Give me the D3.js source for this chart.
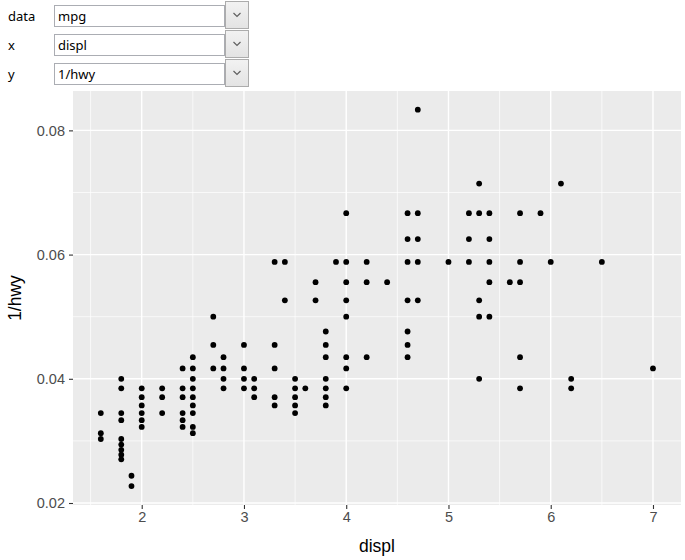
<!DOCTYPE html>
<html>
<head>
<meta charset="utf-8">
<script src="https://cdn.jsdelivr.net/npm/d3@7"></script>
<style>
  html, body { margin: 0; padding: 0; background: #fff; }
  svg { display: block; }
</style>
</head>
<body>
<svg id="chart" width="685" height="560"></svg>
<script>
// ---- data: mpg (unique displ/hwy pairs), plotted as x = displ, y = 1/hwy ----
const displ = [
  1.6,1.6,1.6,
  1.8,1.8,1.8,1.8,1.8,1.8,1.8,1.8,1.8,
  1.9,1.9,
  2.0,2.0,2.0,2.0,2.0,2.0,
  2.2,2.2,2.2,
  2.4,2.4,2.4,2.4,2.4,2.4,
  2.5,2.5,2.5,2.5,2.5,2.5,2.5,2.5,2.5,
  2.7,2.7,2.7,
  2.8,2.8,2.8,2.8,
  3.0,3.0,3.0,3.0,
  3.1,3.1,3.1,
  3.3,3.3,3.3,3.3,3.3,
  3.4,3.4,
  3.5,3.5,3.5,3.5,3.5,
  3.6,
  3.7,3.7,
  3.8,3.8,3.8,3.8,3.8,3.8,3.8,
  3.9,
  4.0,4.0,4.0,4.0,4.0,4.0,4.0,4.0,
  4.2,4.2,4.2,
  4.4,
  4.6,4.6,4.6,4.6,4.6,4.6,4.6,
  4.7,4.7,4.7,4.7,4.7,
  5.0,
  5.2,5.2,5.2,
  5.3,5.3,5.3,5.3,5.3,
  5.4,5.4,5.4,5.4,5.4,
  5.6,
  5.7,5.7,5.7,5.7,5.7,
  5.9,
  6.0,
  6.1,
  6.2,6.2,
  6.5,
  7.0
];
const hwy = [
  29,32,33,
  25,26,29,30,33,34,35,36,37,
  41,44,
  26,27,28,29,30,31,
  26,27,29,
  24,26,27,29,30,31,
  23,24,25,26,27,28,29,31,32,
  20,22,24,
  23,24,25,26,
  22,24,25,26,
  25,26,27,
  17,22,24,27,28,
  17,19,
  25,26,27,28,29,
  26,
  18,19,
  21,22,23,25,26,27,28,
  17,
  15,17,18,19,20,23,24,26,
  17,18,23,
  18,
  15,16,17,19,21,22,23,
  12,15,16,17,19,
  17,
  15,16,17,
  14,15,19,20,25,
  15,16,17,18,20,
  18,
  15,17,18,23,26,
  15,
  17,
  14,
  25,26,
  17,
  24
];
const xTicks = [2, 3, 4, 5, 6, 7];
const xMinor = [1.5, 2.5, 3.5, 4.5, 5.5, 6.5];
const yTicks = [0.02, 0.04, 0.06, 0.08];
const yMinor = [0.03, 0.05, 0.07];
const selectors = [
  { label: "data", value: "mpg" },
  { label: "x", value: "displ" },
  { label: "y", value: "1/hwy" }
];

// ---- layout ----
const svg = d3.select("#chart");
const P = { left: 73, right: 681, top: 91, bottom: 505 };

const x = d3.scaleLinear().domain([1.328, 7.274]).range([P.left, P.right]);
const y = d3.scaleLinear().domain([0.01968, 0.08634]).range([P.bottom, P.top]);

// ---- selector controls ----
const uiFont = "'Noto Sans', 'Open Sans', sans-serif";
const rows = svg.append("g").selectAll("g").data(selectors).join("g")
  .attr("transform", (d, i) => `translate(0, ${i * 29})`);
rows.append("text").attr("x", 8).attr("y", 21)
  .attr("font-family", uiFont).attr("font-size", 13).attr("fill", "#000")
  .text(d => d.label);
rows.append("rect").attr("x", 54.5).attr("y", 5.5).attr("width", 170).attr("height", 21)
  .attr("fill", "#fff").attr("stroke", "#abadb3").attr("stroke-width", 1);
rows.append("text").attr("x", 58).attr("y", 21)
  .attr("font-family", uiFont).attr("font-size", 13).attr("fill", "#000")
  .text(d => d.value);
const defs = svg.append("defs");
const grad = defs.append("linearGradient").attr("id", "btn").attr("x1", 0).attr("y1", 0).attr("x2", 0).attr("y2", 1);
grad.append("stop").attr("offset", "0%").attr("stop-color", "#f2f2f2");
grad.append("stop").attr("offset", "100%").attr("stop-color", "#e3e3e3");
rows.append("rect").attr("x", 225.5).attr("y", 1.5).attr("width", 23).attr("height", 27)
  .attr("fill", "url(#btn)").attr("stroke", "#acacac").attr("stroke-width", 1);
rows.append("path").attr("d", "M233.5,13 L237,16.5 L240.5,13")
  .attr("fill", "none").attr("stroke", "#606060").attr("stroke-width", 1.2);

// ---- panel ----
svg.append("rect").attr("x", P.left).attr("y", P.top)
  .attr("width", P.right - P.left).attr("height", P.bottom - P.top)
  .attr("fill", "#EBEBEB");

const grid = svg.append("g");
grid.selectAll(".xmin").data(xMinor).join("line")
  .attr("x1", d => x(d)).attr("x2", d => x(d)).attr("y1", P.top).attr("y2", P.bottom)
  .attr("stroke", "#fff").attr("stroke-width", 0.7);
grid.selectAll(".ymin").data(yMinor).join("line")
  .attr("y1", d => y(d)).attr("y2", d => y(d)).attr("x1", P.left).attr("x2", P.right)
  .attr("stroke", "#fff").attr("stroke-width", 0.7);
grid.selectAll(".xmaj").data(xTicks).join("line")
  .attr("x1", d => x(d)).attr("x2", d => x(d)).attr("y1", P.top).attr("y2", P.bottom)
  .attr("stroke", "#fff").attr("stroke-width", 1.4);
grid.selectAll(".ymaj").data(yTicks).join("line")
  .attr("y1", d => y(d)).attr("y2", d => y(d)).attr("x1", P.left).attr("x2", P.right)
  .attr("stroke", "#fff").attr("stroke-width", 1.4);

// ---- points ----
const data = displ.map((d, i) => ({ displ: d, hwy: hwy[i] }));
svg.append("g").selectAll("circle").data(data).join("circle")
  .attr("cx", d => x(d.displ))
  .attr("cy", d => y(1 / d.hwy))
  .attr("r", 2.9)
  .attr("fill", "#000");

// ---- axes ----
const axFont = "'Liberation Sans', Arial, sans-serif";
const xAxis = svg.append("g").attr("transform", `translate(0, ${P.bottom})`)
  .call(d3.axisBottom(x).tickValues(xTicks).tickSize(4).tickPadding(3).tickFormat(d3.format("d")));
const yAxis = svg.append("g").attr("transform", `translate(${P.left}, 0)`)
  .call(d3.axisLeft(y).tickValues(yTicks).tickSize(4).tickPadding(4).tickFormat(d3.format(".2f")));
[xAxis, yAxis].forEach(a => {
  a.select(".domain").remove();
  a.selectAll(".tick line").attr("stroke", "#333").attr("stroke-width", 1.1);
  a.selectAll(".tick text").attr("fill", "#4D4D4D")
    .attr("font-family", axFont).attr("font-size", 14.5);
});

// ---- axis titles ----
svg.append("text").attr("x", (P.left + P.right) / 2).attr("y", 552)
  .attr("text-anchor", "middle").attr("font-family", axFont).attr("font-size", 17.5)
  .attr("fill", "#000").text("displ");
svg.append("text").attr("transform", `translate(21, ${(P.top + P.bottom) / 2}) rotate(-90)`)
  .attr("text-anchor", "middle").attr("font-family", axFont).attr("font-size", 17.5)
  .attr("fill", "#000").text("1/hwy");
</script>
</body>
</html>
